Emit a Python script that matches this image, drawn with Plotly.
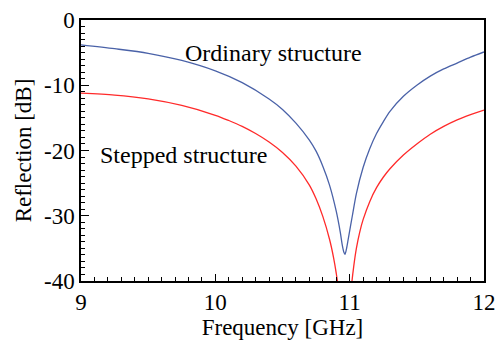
import plotly.graph_objects as go

freq_ordinary = [9.0, 9.25, 9.5, 9.75, 10.0, 10.2, 10.4, 10.5, 10.6, 10.7, 10.75, 10.8, 10.85, 10.9, 10.93, 10.945,
                 10.957, 10.965, 10.975, 10.99, 11.02, 11.05, 11.1, 11.15, 11.2, 11.25, 11.3, 11.4, 11.5, 11.6,
                 11.7, 11.8, 11.9, 12.0]
refl_ordinary = [-3.8, -4.4, -5.1, -6.2, -7.8, -9.6, -12.1, -13.7, -15.8, -18.4, -20.1, -22.4, -25.3, -29.3, -32.5, -34.5,
                 -35.6, -35.9, -35.2, -33.5, -30.0, -26.6, -22.6, -19.7, -17.4, -15.6, -14.0, -11.7, -10.0, -8.6,
                 -7.5, -6.6, -5.7, -4.9]

freq_stepped = [9.0, 9.25, 9.5, 9.75, 10.0, 10.1, 10.2, 10.3, 10.4, 10.5, 10.6, 10.7, 10.75, 10.8, 10.85, 10.88,
                10.9, 10.92, 10.965, 11.01, 11.03, 11.05, 11.075, 11.1, 11.15, 11.2, 11.25, 11.3, 11.4, 11.5,
                11.6, 11.7, 11.8, 11.9, 12.0]
refl_stepped = [-11.2, -11.5, -12.1, -13.1, -14.6, -15.4, -16.3, -17.4, -18.7, -20.3, -22.4, -25.3, -27.4, -30.1, -33.6, -36.4,
                -38.8, -41.8, -55.0, -41.5, -37.8, -35.0, -32.5, -30.6, -27.8, -25.7, -24.1, -22.8, -20.7, -19.0,
                -17.5, -16.3, -15.3, -14.5, -13.8]

x_ticks = [9, 10, 11, 12]
x_tick_labels = ["9", "10", "11", "12"]
y_ticks = [0, -10, -20, -30, -40]
y_tick_labels = ["0", "-10", "-20", "-30", "-40"]

FONT = "Liberation Serif"

fig = go.Figure()
fig.add_trace(go.Scatter(x=freq_ordinary, y=refl_ordinary, mode="lines",
                         line=dict(color="#4a62a8", width=1.3, shape="spline", smoothing=0.8),
                         showlegend=False))
fig.add_trace(go.Scatter(x=freq_stepped, y=refl_stepped, mode="lines",
                         line=dict(color="#ff2a2a", width=1.3, shape="spline", smoothing=0.8),
                         showlegend=False))

fig.add_annotation(x=10.43, y=-5.1, text="Ordinary structure", showarrow=False,
                   xanchor="center", yanchor="middle", font=dict(family=FONT, size=24, color="black"))
fig.add_annotation(x=9.76, y=-20.7, text="Stepped structure", showarrow=False,
                   xanchor="center", yanchor="middle", font=dict(family=FONT, size=24, color="black"))

fig.update_xaxes(range=[9, 12], tickvals=x_ticks, ticktext=x_tick_labels, automargin=False,
                 ticks="inside", ticklen=7, tickwidth=1.2, tickcolor="black",
                 minor=dict(dtick=0.1, ticks="inside", ticklen=4, tickwidth=1, tickcolor="black"),
                 showline=True, linecolor="black", linewidth=1.5, mirror=True,
                 showgrid=False, zeroline=False,
                 title=dict(text="Frequency [GHz]", font=dict(family=FONT, size=23, color="black"), standoff=4),
                 tickfont=dict(family=FONT, size=23, color="black"))
fig.update_yaxes(range=[-40, 0], tickvals=y_ticks, ticktext=y_tick_labels, automargin=False,
                 ticks="inside", ticklen=8, tickwidth=1.2, tickcolor="black",
                 minor=dict(dtick=1, ticks="inside", ticklen=4, tickwidth=1, tickcolor="black"),
                 showline=True, linecolor="black", linewidth=1.5, mirror=True,
                 showgrid=False, zeroline=False,
                 title=dict(text="Reflection [dB]", font=dict(family=FONT, size=23, color="black"), standoff=6),
                 tickfont=dict(family=FONT, size=23, color="black"))

fig.update_layout(width=496, height=345, margin=dict(l=81, r=12, t=20, b=64),
                  paper_bgcolor="white", plot_bgcolor="white")

fig.write_html("out.html", config={"displayModeBar": False},
               post_script="document.body.style.margin='0';document.body.style.padding='0';"
                           "document.body.style.overflow='hidden';")
